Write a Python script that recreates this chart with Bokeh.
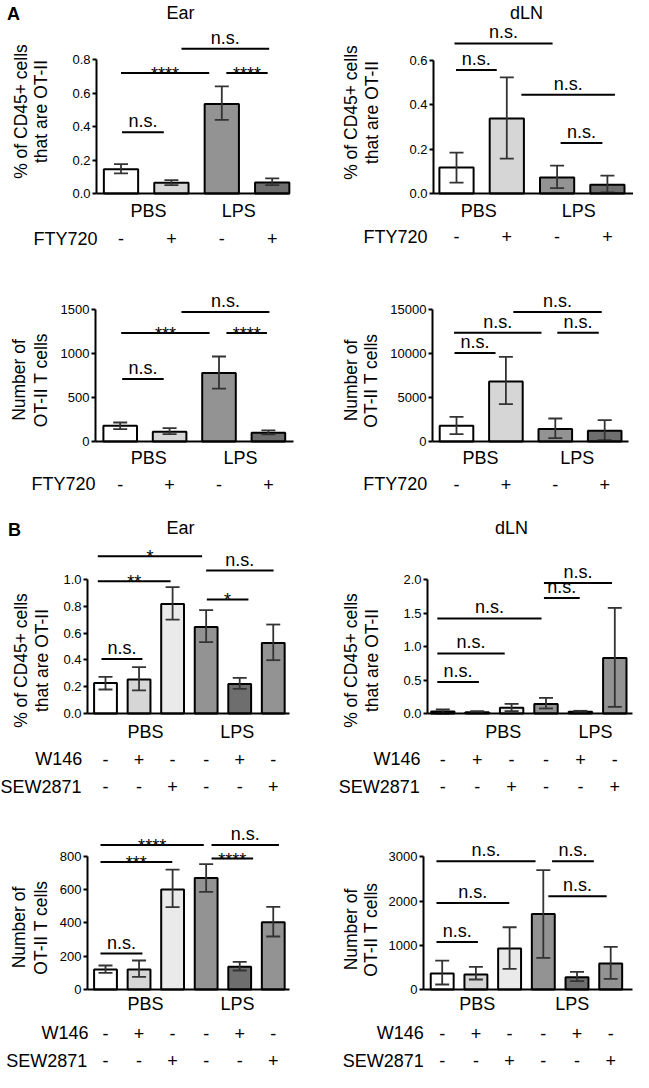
import math
from bokeh.plotting import figure
from bokeh.models import Range1d, FixedTicker, NumeralTickFormatter
from bokeh.layouts import column, row
from bokeh.embed import file_html
from bokeh.resources import INLINE
from bokeh.core.properties import value

FONT = "Liberation Sans"

# ------------------------------------------------------------------ data
treatments = ["PBS", "LPS"]
fty720 = ["-", "+", "-", "+"]
w146 = ["-", "+", "-", "-", "+", "-"]
sew2871 = ["-", "-", "+", "-", "-", "+"]

colors_A = ["#ffffff", "#d6d6d6", "#939393", "#6e6e6e"]
colors_B = ["#ffffff", "#d6d6d6", "#eaeaea", "#939393", "#6e6e6e", "#939393"]

# A - Ear, % of CD45+ cells that are OT-II
a_ear_pct = [0.145, 0.064, 0.535, 0.066]
a_ear_pct_lo = [0.12, 0.05, 0.44, 0.05]
a_ear_pct_hi = [0.175, 0.08, 0.64, 0.09]
a_ear_pct_ticks = [0, 0.2, 0.4, 0.6, 0.8]
a_ear_pct_sig = [(0.0, 1.75, 0.72, "****"), (2.09, 2.91, 0.72, "****"),
                 (1.2, 2.94, 0.864, "n.s."), (0.02, 0.85, 0.366, "n.s.")]

# A - dLN, % of CD45+ cells that are OT-II
a_dln_pct = [0.117, 0.337, 0.072, 0.039]
a_dln_pct_lo = [0.049, 0.157, 0.024, 0.005]
a_dln_pct_hi = [0.184, 0.522, 0.125, 0.08]
a_dln_pct_ticks = [0, 0.2, 0.4, 0.6]
a_dln_pct_sig = [(-0.04, 1.91, 0.675, "n.s."), (-0.01, 0.8, 0.556, "n.s."),
                 (1.29, 3.15, 0.444, "n.s."), (2.07, 2.9, 0.227, "n.s.")]

# A - Ear, number of OT-II T cells
a_ear_num = [178, 110, 775, 100]
a_ear_num_lo = [140, 84, 600, 80]
a_ear_num_hi = [215, 152, 963, 125]
a_ear_num_ticks = [0, 500, 1000, 1500]
a_ear_num_sig = [(0.02, 1.81, 1228, "***"), (2.15, 2.97, 1228, "****"),
                 (1.24, 3.02, 1466, "n.s."), (0.04, 0.88, 707, "n.s.")]

# A - dLN, number of OT-II T cells
a_dln_num = [1788, 6834, 1412, 1219]
a_dln_num_lo = [843, 4260, 387, 160]
a_dln_num_hi = [2813, 9647, 2620, 2437]
a_dln_num_ticks = [0, 5000, 10000, 15000]
a_dln_num_sig = [(1.15, 2.94, 14738, "n.s."), (-0.05, 1.72, 12380, "n.s."),
                 (2.04, 2.88, 12380, "n.s."), (-0.04, 0.79, 10068, "n.s.")]

# B - Ear, % of CD45+ cells that are OT-II
b_ear_pct = [0.228, 0.254, 0.818, 0.646, 0.221, 0.527]
b_ear_pct_lo = [0.179, 0.172, 0.701, 0.532, 0.184, 0.398]
b_ear_pct_hi = [0.273, 0.346, 0.943, 0.771, 0.266, 0.664]
b_ear_pct_ticks = [0, 0.2, 0.4, 0.6, 0.8, 1.0]
b_ear_pct_sig = [(-0.23, 2.88, 1.174, "*"), (3.0, 5.01, 1.067, "n.s."),
                 (-0.23, 1.94, 0.987, "**"), (3.02, 4.26, 0.851, "*"),
                 (-0.12, 1.1, 0.407, "n.s.")]

# B - dLN, % of CD45+ cells that are OT-II
b_dln_pct = [0.03, 0.02, 0.084, 0.143, 0.025, 0.83]
b_dln_pct_lo = [0.0, 0.01, 0.035, 0.075, 0.015, 0.099]
b_dln_pct_hi = [0.06, 0.035, 0.143, 0.233, 0.04, 1.576]
b_dln_pct_ticks = [0, 0.5, 1.0, 1.5, 2.0]
b_dln_pct_sig = [(2.94, 4.92, 1.949, "n.s."), (2.94, 3.98, 1.725, "n.s."),
                 (-0.16, 2.87, 1.418, "n.s."), (-0.16, 1.8, 0.896, "n.s."),
                 (-0.16, 1.05, 0.472, "n.s.")]

# B - Ear, number of OT-II T cells
b_ear_num = [120, 120, 600, 670, 136, 404]
b_ear_num_lo = [100, 76, 494, 586, 114, 318]
b_ear_num_hi = [144, 174, 720, 753, 166, 496]
b_ear_num_ticks = [0, 200, 400, 600, 800]
b_ear_num_sig = [(-0.15, 2.93, 867, "****"), (3.16, 5.17, 867, "n.s."),
                 (-0.15, 1.99, 766, "***"), (3.16, 4.4, 786, "****"),
                 (-0.15, 1.1, 216, "n.s.")]

# B - dLN, number of OT-II T cells
b_dln_num = [362, 339, 927, 1709, 278, 588]
b_dln_num_lo = [113, 226, 466, 714, 188, 240]
b_dln_num_hi = [655, 511, 1408, 2700, 398, 963]
b_dln_num_ticks = [0, 1000, 2000, 3000]
b_dln_num_sig = [(-0.17, 2.77, 2900, "n.s."), (3.26, 4.5, 2900, "n.s."),
                 (-0.17, 1.99, 1958, "n.s."), (3.15, 4.88, 2110, "n.s."),
                 (-0.17, 1.06, 1076, "n.s.")]

ylab_pct = ["% of CD45+ cells", "that are OT-II"]
ylab_num = ["Number of", "OT-II T cells"]


# ------------------------------------------------------------------ drawing
def panel(vals, lo, hi, colors, ticks, fmt, sig, rows, L):
    W, H = L["W"], L["H"]
    ax, xend, zy = L["ax"], L["xend"], L["zy"]
    c0, sp, ppu = L["c0"], L["sp"], L["ppu"]

    def dx(px):
        return (px - c0) / sp

    def dy(py):
        return (zy - py) / ppu

    p = figure(width=W, height=H, x_range=Range1d(dx(0), dx(W)), y_range=Range1d(dy(H), dy(0)),
               min_border_left=0, min_border_right=0, min_border_top=0, min_border_bottom=0,
               output_backend="svg", toolbar_location=None, title=None)
    p.outline_line_color = None
    p.xgrid.visible = False
    p.ygrid.visible = False
    p.background_fill_color = "white"
    p.border_fill_color = "white"

    # axes, pinned to the bar baseline and to the left of the bars
    p.xaxis.fixed_location = 0
    p.xaxis.bounds = (dx(ax), dx(xend))
    p.xaxis.ticker = FixedTicker(ticks=[])
    p.xaxis.axis_line_width = 2
    p.xaxis.axis_line_color = "black"
    p.xaxis.major_tick_line_color = None
    p.xaxis.minor_tick_line_color = None
    p.yaxis.fixed_location = dx(ax)
    p.yaxis.ticker = FixedTicker(ticks=ticks)
    p.yaxis.bounds = (0, ticks[-1])
    p.yaxis.formatter = NumeralTickFormatter(format=fmt)
    p.yaxis.axis_line_width = 2
    p.yaxis.axis_line_color = "black"
    p.yaxis.major_tick_line_width = 2
    p.yaxis.major_tick_in = 0
    p.yaxis.major_tick_out = 4
    p.yaxis.minor_tick_line_color = None
    p.yaxis.major_label_standoff = 2
    p.yaxis.major_label_text_font = FONT
    p.yaxis.major_label_text_font_size = "13px"
    p.yaxis.major_label_text_color = "black"

    n = len(vals)
    xs = list(range(n))
    p.vbar(x=xs, top=vals, width=0.68, fill_color=colors, line_color="black", line_width=2)

    cw = 7.0 / sp
    ec = "#333333"
    p.segment(x0=xs, y0=lo, x1=xs, y1=hi, line_color=ec, line_width=1.8)
    p.segment(x0=[x - cw for x in xs], y0=lo, x1=[x + cw for x in xs], y1=lo,
              line_color=ec, line_width=1.8)
    p.segment(x0=[x - cw for x in xs], y0=hi, x1=[x + cw for x in xs], y1=hi,
              line_color=ec, line_width=1.8)

    # significance brackets
    p.segment(x0=[s[0] for s in sig], y0=[s[2] for s in sig],
              x1=[s[1] for s in sig], y1=[s[2] for s in sig],
              line_color="black", line_width=2)

    def txt(texts, x, y, size="18px", align="center", angle=0.0, style="normal", yoff=0):
        p.text(x=x, y=y, text=texts, text_font=value(FONT), text_font_size=value(size),
               text_align=align, text_baseline="middle", angle=angle,
               text_font_style=style, text_color="black", y_offset=yoff)

    star = [s for s in sig if s[3].startswith("*")]
    ns = [s for s in sig if not s[3].startswith("*")]
    if star:
        txt([s[3] for s in star], [(s[0] + s[1]) / 2 for s in star], [s[2] for s in star], yoff=1)
    if ns:
        txt([s[3] for s in ns], [(s[0] + s[1]) / 2 for s in ns], [s[2] for s in ns], yoff=-11)

    if "title" in L:
        t, tx, ty = L["title"]
        txt([t], [dx(tx)], [dy(ty)])
    if "letter" in L:
        t, tx, ty = L["letter"]
        txt([t], [dx(tx)], [dy(ty)], style="bold")
    ylab, (lx1, lx2, ly) = L["ylab"]
    txt(ylab, [dx(lx1), dx(lx2)], [dy(ly), dy(ly)], size="17.5px", angle=math.pi / 2)
    (gx1, gx2, gy) = L["groups"]
    txt(treatments, [dx(gx1), dx(gx2)], [dy(gy), dy(gy)])
    for (name, signs), (rx, ry) in zip(rows, L["rows"]):
        txt([name], [dx(rx)], [dy(ry)], align="right")
        txt(signs, xs, [dy(ry)] * n)
    return p


# panel geometry, in pixels inside each panel
LA1L = dict(W=310, H=262, ax=96, xend=289, zy=193, ppu=167.5, c0=120.5, sp=50.4,
            title=("Ear", 180, 12), letter=("A", 13, 13),
            ylab=(ylab_pct, (20, 40, 111)), groups=(148, 238.3, 210), rows=[(97, 238)])
LA1R = dict(W=323, H=262, ax=123, xend=323, zy=193, ppu=222.3, c0=146, sp=50.3,
            title=("dLN", 216, 12),
            ylab=(ylab_pct, (40, 61.7, 112)), groups=(168.3, 268.3, 210), rows=[(117, 236)])
LA2L = dict(W=310, H=244, ax=95, xend=293, zy=179, ppu=0.08827, c0=119.7, sp=49.4,
            ylab=(ylab_num, (18.3, 40, 117.5)), groups=(148.3, 240, 195), rows=[(95, 221.5)])
LA2R = dict(W=323, H=244, ax=122, xend=318, zy=179, ppu=0.00878, c0=146, sp=49.4,
            ylab=(ylab_num, (40, 60, 118)), groups=(170, 266.7, 195), rows=[(116.7, 221.5)])
LB1L = dict(W=310, H=292, ax=87, xend=289, zy=207, ppu=134, c0=105, sp=33.55,
            title=("Ear", 180, 21), letter=("B", 14, 23),
            ylab=(ylab_pct, (20, 41.7, 154)), groups=(145, 236.7, 225),
            rows=[(81.7, 252.7), (81, 280)])
LB1R = dict(W=323, H=292, ax=117, xend=322, zy=207, ppu=67, c0=132.3, sp=34.4,
            title=("dLN", 201, 21),
            ylab=(ylab_pct, (40, 61.7, 154)), groups=(192.7, 285, 225),
            rows=[(110, 252.7), (109.3, 280)])
LB2L = dict(W=310, H=274, ax=87, xend=289, zy=191, ppu=0.1666, c0=105, sp=33.55,
            ylab=(ylab_num, (18.3, 40, 129)), groups=(145, 237, 205.3),
            rows=[(88, 234.7), (86.7, 262)])
LB2R = dict(W=323, H=274, ax=113, xend=322, zy=191, ppu=0.0442, c0=131.7, sp=33.7,
            ylab=(ylab_num, (40, 60, 131)), groups=(166.7, 261.7, 205.3),
            rows=[(113.3, 234.7), (113.3, 262)])

rowsA = [("FTY720", fty720)]
rowsB = [("W146", w146), ("SEW2871", sew2871)]

pA1L = panel(a_ear_pct, a_ear_pct_lo, a_ear_pct_hi, colors_A, a_ear_pct_ticks, "0.0", a_ear_pct_sig, rowsA, LA1L)
pA1R = panel(a_dln_pct, a_dln_pct_lo, a_dln_pct_hi, colors_A, a_dln_pct_ticks, "0.0", a_dln_pct_sig, rowsA, LA1R)
pA2L = panel(a_ear_num, a_ear_num_lo, a_ear_num_hi, colors_A, a_ear_num_ticks, "0", a_ear_num_sig, rowsA, LA2L)
pA2R = panel(a_dln_num, a_dln_num_lo, a_dln_num_hi, colors_A, a_dln_num_ticks, "0", a_dln_num_sig, rowsA, LA2R)
pB1L = panel(b_ear_pct, b_ear_pct_lo, b_ear_pct_hi, colors_B, b_ear_pct_ticks, "0.0", b_ear_pct_sig, rowsB, LB1L)
pB1R = panel(b_dln_pct, b_dln_pct_lo, b_dln_pct_hi, colors_B, b_dln_pct_ticks, "0.0", b_dln_pct_sig, rowsB, LB1R)
pB2L = panel(b_ear_num, b_ear_num_lo, b_ear_num_hi, colors_B, b_ear_num_ticks, "0", b_ear_num_sig, rowsB, LB2L)
pB2R = panel(b_dln_num, b_dln_num_lo, b_dln_num_hi, colors_B, b_dln_num_ticks, "0", b_dln_num_sig, rowsB, LB2R)

layout = column(row(pA1L, pA1R), row(pA2L, pA2R), row(pB1L, pB1R), row(pB2L, pB2R))

open("out.html", "w").write(file_html(layout, INLINE))
